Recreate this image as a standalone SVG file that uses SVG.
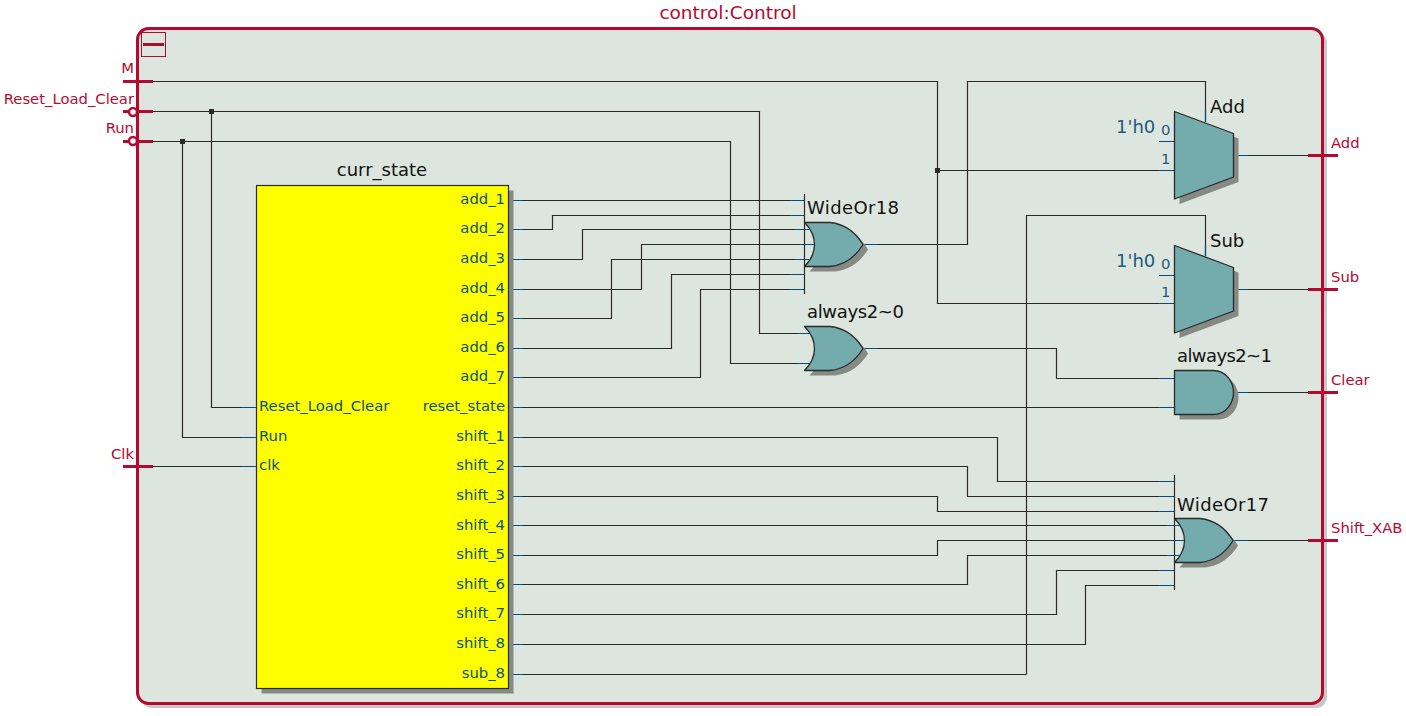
<svg xmlns="http://www.w3.org/2000/svg" width="1406" height="716" viewBox="0 0 1406 716">
<style>
text{font-family:"DejaVu Sans",sans-serif}
.w{fill:none;stroke:#2a2a2a;stroke-width:1.2}
.b{fill:none;stroke:#00507f;stroke-width:1.2}
.r{fill:none;stroke:#b5092f;stroke-width:3}
.g{fill:#74abac;stroke:#2a2a2a;stroke-width:1.3;stroke-linejoin:round}
.s{fill:#858a85;stroke:none}
.pin{font-size:14.8px;fill:#0b5278}
.pr{font-size:14.8px;fill:#0b5278;text-anchor:end}
.n{font-size:18px;fill:#111}
.p{font-size:14.8px;fill:#b5092f}
.pe{font-size:14.8px;fill:#b5092f;text-anchor:end}
.c{font-size:18px;fill:#1b5a80}
.d{font-size:14.8px;fill:#1b5a80}
</style>
<defs>
<path id="or" d="M804.5 222.5H830C845 224 856 233 863 244.500C856 256 845 265 830 266.500H804.500C811 260 814.500 252 814.500 244.500C814.500 237 811 229 804.500 222.500Z"/>
<path id="mux" d="M1174.500 111.500L1233.500 133.500V177L1174.500 199Z"/>
</defs>
<text x="728" y="19" text-anchor="middle" style="font-size:18.500px;fill:#b5092f">control:Control</text>
<rect x="141" y="32" width="1186" height="676" rx="11" fill="#c8c8c8"/>
<rect x="137.500" y="28.500" width="1185" height="675" rx="11" fill="#dde6de" stroke="#b5092f" stroke-width="3"/>
<g id="collapse"><rect x="141.500" y="32.500" width="24" height="24" fill="none" stroke="#b5092f"/><path d="M143 44.500H164" stroke="#a5102c" stroke-width="3"/></g>
<g id="connectors">
<path class="w" d="M153 81.500H937.500V303.500H1174M153 111.500H759.500V333.500H815M153 141.500H730.500V363.500H815M182.500 141.500V437.500H256M211.500 111.500V407.500H256M153 466.500H256"/>
<path class="w" d="M937.500 170.500H1174M863 244.500H967.500V81.500H1205.500V122M1026.500 674.500V215.500H1205.500V256M508 674.500H1026.500"/>
<path class="w" d="M508 200.500H804M508 229.500H552.500V215.500H804M508 259.500H582.500V229.500H809M508 289.500H641.500V244.500H815M508 318.500H611.500V259.500H809M508 348.500H671.500V274.500H804M508 377.500H700.500V289.500H804"/>
<path class="w" d="M863 348.500H1056.500V378.500H1174M508 407.500H1174M1233 392.500H1308M1233 155.500H1308M1233 289.500H1308M1233 540.500H1308"/>
<path class="w" d="M508 437.500H997.500V481.500H1174M508 466.500H967.500V496.500H1174M508 496.500H937.500V511.500H1174M508 525.500H1182M508 555.500H937.500V540.500H1185M508 584.500H967.500V555.500H1182M508 614.500H1056.500V570.500H1174M508 644.500H1085.500V585.500H1174"/>
<path class="b" d="M509 200.500H523M509 229.500H523M509 259.500H523M509 289.500H523M509 318.500H523M509 348.500H523M509 377.500H523M509 407.500H523M509 437.500H523M509 466.500H523M509 496.500H523M509 525.500H523M509 555.500H523M509 584.500H523M509 614.500H523M509 644.500H523M509 674.500H523"/>
<path class="b" d="M241 407.500H256M241 437.500H256M241 466.500H256"/>
<path class="b" d="M790 200.500H804M790 215.500H804M795 229.500H809M800 244.500H815M795 259.500H809M790 274.500H804M790 289.500H804M798 333.500H810M798 363.500H810M864 244.500H878M864 348.500H878"/>
<path class="b" d="M1159 141.500H1174M1159 170.500H1174M1159 275.500H1174M1159 303.500H1174M1205.500 111V122M1205.500 245V256M1234 155.500H1248M1234 289.500H1248M1159 378.500H1174M1159 407.500H1174M1234 392.500H1248M1234 540.500H1248"/>
<path class="b" d="M1159 481.500H1174M1159 496.500H1174M1159 511.500H1174M1167 525.500H1180M1170 540.500H1184M1167 555.500H1180M1159 570.500H1174M1159 585.500H1174"/>
<path class="w" d="M804.500 194V294M1174.500 475V590"/>
<rect x="209" y="109" width="5" height="5" fill="#2a2a2a"/><rect x="180" y="139" width="5" height="5" fill="#2a2a2a"/><rect x="935" y="168" width="5" height="5" fill="#2a2a2a"/>
</g>
<g id="port-M"><path class="r" d="M123 81.500H153"/><text class="pe" x="134" y="73">M</text></g>
<g id="port-Reset_Load_Clear"><path class="r" d="M123 111.500H128M137 111.500H153"/><circle cx="133" cy="112" r="4" fill="#fff" stroke="#b5092f" stroke-width="2.500"/><text class="pe" x="134" y="104">Reset_Load_Clear</text></g>
<g id="port-Run"><path class="r" d="M123 141.500H128M137 141.500H153"/><circle cx="133" cy="141" r="4" fill="#fff" stroke="#b5092f" stroke-width="2.500"/><text class="pe" x="134" y="133">Run</text></g>
<g id="port-Clk"><path class="r" d="M123 466.500H153"/><text class="pe" x="134" y="459">Clk</text></g>
<g id="port-Add"><path class="r" d="M1308 155.500H1338"/><text class="p" x="1331" y="148">Add</text></g>
<g id="port-Sub"><path class="r" d="M1308 289.500H1338"/><text class="p" x="1331" y="282">Sub</text></g>
<g id="port-Clear"><path class="r" d="M1308 392.500H1338"/><text class="p" x="1331" y="385">Clear</text></g>
<g id="port-Shift_XAB"><path class="r" d="M1308 540.500H1338"/><text class="p" x="1331" y="533">Shift_XAB</text></g>
<g id="curr_state">
<rect x="261.500" y="190.500" width="252" height="503" class="s"/>
<rect x="256.500" y="185.500" width="252" height="503" fill="#ff0" stroke="#2a2a2a" stroke-width="1.200"/>
<text class="n" x="382" y="176" text-anchor="middle">curr_state</text>
<text class="pin" x="259" y="411">Reset_Load_Clear</text><text class="pin" x="259" y="441">Run</text><text class="pin" x="259" y="470">clk</text>
<text class="pr" x="505" y="204">add_1</text><text class="pr" x="505" y="233">add_2</text><text class="pr" x="505" y="263">add_3</text><text class="pr" x="505" y="293">add_4</text><text class="pr" x="505" y="322">add_5</text><text class="pr" x="505" y="352">add_6</text><text class="pr" x="505" y="381">add_7</text><text class="pr" x="505" y="411">reset_state</text><text class="pr" x="505" y="441">shift_1</text><text class="pr" x="505" y="470">shift_2</text><text class="pr" x="505" y="500">shift_3</text><text class="pr" x="505" y="530">shift_4</text><text class="pr" x="505" y="559">shift_5</text><text class="pr" x="505" y="589">shift_6</text><text class="pr" x="505" y="618">shift_7</text><text class="pr" x="505" y="648">shift_8</text><text class="pr" x="505" y="678">sub_8</text>
</g>
<g id="WideOr18"><use href="#or" class="s" x="5" y="5"/><use href="#or" class="g"/><text class="n" x="807" y="214" textLength="92">WideOr18</text></g>
<g id="always2-0"><use href="#or" class="s" x="5" y="109"/><use href="#or" class="g" y="104"/><text class="n" x="807" y="318" textLength="97">always2~0</text></g>
<g id="WideOr17"><use href="#or" class="s" x="375" y="301"/><use href="#or" class="g" x="370" y="296"/><text class="n" x="1177" y="511" textLength="92">WideOr17</text></g>
<g id="Add"><use href="#mux" class="s" x="5" y="5"/><use href="#mux" class="g"/><text class="n" x="1210" y="113">Add</text><text class="c" x="1116" y="133">1'h0</text><text class="d" x="1161" y="135">0</text><text class="d" x="1161" y="164">1</text></g>
<g id="Sub"><use href="#mux" class="s" x="5" y="139"/><use href="#mux" class="g" y="134"/><text class="n" x="1210" y="247">Sub</text><text class="c" x="1116" y="267">1'h0</text><text class="d" x="1161" y="269">0</text><text class="d" x="1161" y="297">1</text></g>
<g id="always2-1"><path class="s" d="M1179.500 375.500H1218C1232 375.500 1238.500 388 1238.500 397.500C1238.500 407 1232 419.500 1218 419.500H1179.500Z"/><path class="g" d="M1174.500 370.500H1213C1227 370.500 1233.500 383 1233.500 392.500C1233.500 402 1227 414.500 1213 414.500H1174.500Z"/><text class="n" x="1177" y="362" textLength="95">always2~1</text></g>
</svg>
